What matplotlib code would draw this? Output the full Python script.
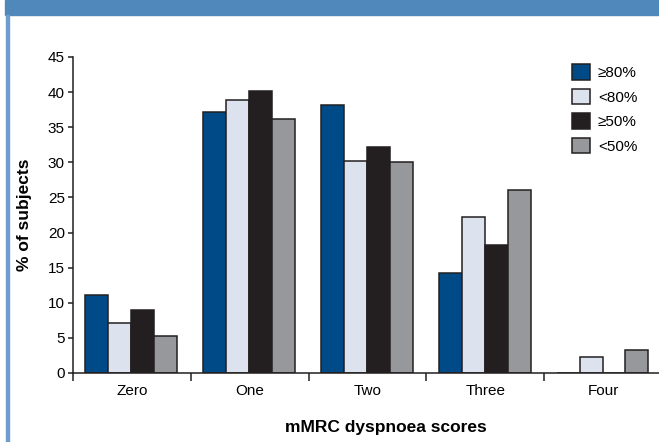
import matplotlib
matplotlib.use("Agg")
import matplotlib.pyplot as plt
from matplotlib.patches import Rectangle
import numpy as np

plt.rcParams["font.family"] = ["Liberation Sans", "DejaVu Sans"]

# mMRC dyspnoea score categories
categories = ["Zero", "One", "Two", "Three", "Four"]
series_labels = ["\u226580%", "<80%", "\u226550%", "<50%"]

# % of subjects per category, one list per group
ge80 = [11.1, 37.1, 38.1, 14.2, 0.0]
lt80 = [7.1, 38.9, 30.2, 22.2, 2.3]
ge50 = [9.0, 40.2, 32.2, 18.2, 0.0]
lt50 = [5.2, 36.2, 30.1, 26.1, 3.3]

yticks = [0, 5, 10, 15, 20, 25, 30, 35, 40, 45]

colors = ["#004b87", "#dde2ef", "#231f20", "#97989c"]
edge = "#231f20"

fig = plt.figure(figsize=(6.59, 4.42), dpi=100)

# blue header band and left border of the source panel
fig.patches.append(Rectangle((5 / 659, 1 - 15 / 442), 1, 15 / 442,
                             transform=fig.transFigure, color="#5188bb",
                             zorder=0))
fig.patches.append(Rectangle((6 / 659, 0), 2.5 / 659, 1 - 15 / 442,
                             transform=fig.transFigure, color="#6d9dcc",
                             zorder=0))

ax = fig.add_axes([73 / 659, 69 / 442, 589 / 659, 316 / 442])

x = np.arange(len(categories))
width = 0.195
offset = 0.105
for i, (vals, col, lab) in enumerate(zip([ge80, lt80, ge50, lt50], colors, series_labels)):
    ax.bar(x + offset + i * width, vals, width=width, align="edge",
           color=col, edgecolor=edge, linewidth=1.1, label=lab, zorder=2)

ax.set_xlim(0, len(categories))
ax.set_ylim(0, 45)
ax.set_yticks(yticks)
ax.set_xticks(x + 0.5)
ax.set_xticklabels(categories, fontsize=11)
ax.set_xticks(np.arange(len(categories) + 1), minor=True)
ax.tick_params(axis="x", which="major", length=0, pad=8)
ax.tick_params(axis="x", which="minor", length=5.5, width=1.1, direction="out", color=edge)
ax.tick_params(axis="y", length=3.8, width=1.1, color=edge, labelsize=11, pad=2)

for side in ["top", "right"]:
    ax.spines[side].set_visible(False)
for side in ["left", "bottom"]:
    ax.spines[side].set_linewidth(1.1)
    ax.spines[side].set_color(edge)

ax.set_ylabel("% of subjects", fontsize=12.5, fontweight="bold")
ax.yaxis.set_label_coords(-(73 - 32) / 589, 0.5)
ax.set_xlabel("mMRC dyspnoea scores", fontsize=12.5, fontweight="bold")
ax.xaxis.set_label_coords((386 - 73) / 589, -(420 - 373) / 316)

ax.legend(loc="upper left", bbox_to_anchor=(572 / 659, 1 - 64 / 442),
          bbox_transform=fig.transFigure, frameon=False, fontsize=11,
          handlelength=1.2, handleheight=1.2, labelspacing=0.56,
          handletextpad=0.5, borderpad=0, borderaxespad=0)

fig.savefig("out.png", dpi=100)
plt.close(fig)
